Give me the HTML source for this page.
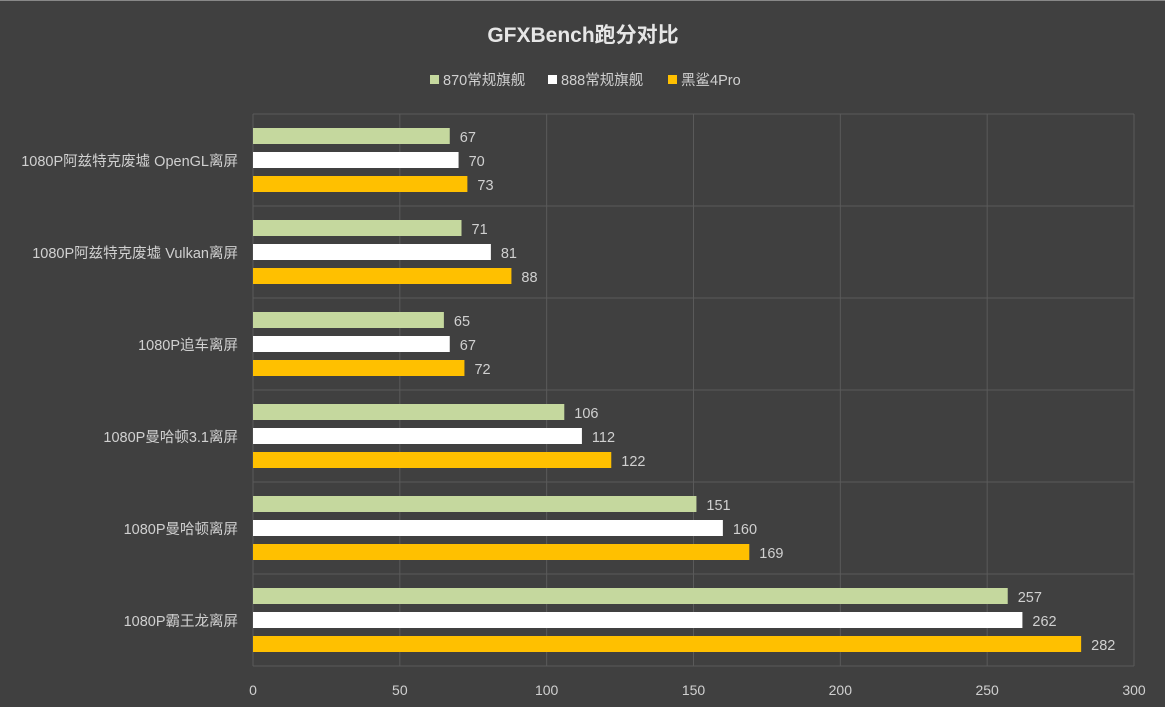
<!DOCTYPE html>
<html><head><meta charset="utf-8"><style>
html,body{margin:0;padding:0;background:#404040;}
#wrap{position:relative;width:1165px;height:707px;overflow:hidden;background:#404040;border-top:1px solid #888;box-sizing:border-box;}
svg text{font-family:"Liberation Sans","Noto Sans CJK SC",sans-serif;}
</style></head><body>
<div id="wrap">
<svg id="chart" width="1165" height="707" xmlns="http://www.w3.org/2000/svg">
<text x="583" y="41" text-anchor="middle" font-size="21" font-weight="bold" fill="#e6e6e6">GFXBench跑分对比</text>
</svg>
</div>
<script>
const categories=["1080P阿兹特克废墟 OpenGL离屏","1080P阿兹特克废墟 Vulkan离屏","1080P追车离屏","1080P曼哈顿3.1离屏","1080P曼哈顿离屏","1080P霸王龙离屏"];
const seriesNames=["870常规旗舰","888常规旗舰","黑鲨4Pro"];
const s870=[67,71,65,106,151,257];
const s888=[70,81,67,112,160,262];
const sBS=[73,88,72,122,169,282];
const ticks=[0,50,100,150,200,250,300];
const colors=["#c5d89e","#ffffff","#ffc000"];
const series=[s870,s888,sBS];
const ns="http://www.w3.org/2000/svg";
const svg=document.getElementById('chart');
const X0=253,X1=1134,Y0=113,Y1=665,MAX=300;
const xs=v=>X0+(X1-X0)*v/MAX;
const band=(Y1-Y0)/categories.length;
function mk(t,a){const e=document.createElementNS(ns,t);for(const k in a)e.setAttribute(k,a[k]);svg.appendChild(e);return e;}
// grid
ticks.forEach(t=>{
 const l=mk('line',{x1:xs(t),x2:xs(t),y1:Y0,y2:Y1,stroke:'#5a5a5a','stroke-width':1});
 
 
 const tx=mk('text',{x:xs(t),y:694,'text-anchor':'middle','font-size':14,fill:'#d0d0d0'});
 tx.textContent=t;
 
 
});
for(let i=0;i<=categories.length;i++){
 const y=Y0+band*i;
 const l=mk('line',{x1:X0,x2:X1,y1:y,y2:y,stroke:'#5a5a5a','stroke-width':1});
 
 
}
categories.forEach((c,i)=>{
 const top=Y0+band*i;
 const tx=mk('text',{x:238,y:top+band/2+6,'text-anchor':'end','font-size':14.5,fill:'#d0d0d0'});
 tx.textContent=c;
 
 
 series.forEach((s,j)=>{
  const y=top+14+24*j;
  const r=mk('rect',{x:X0,y:y,width:xs(s[i])-X0,height:16,fill:colors[j]});
  
  
  const v=mk('text',{x:xs(s[i])+10,y:y+14,'font-size':14.5,fill:'#d0d0d0'});
  v.textContent=s[i];
  
  
 });
});
// legend
const lx=[430,548,668];
seriesNames.forEach((n,j)=>{
 const r=mk('rect',{x:lx[j],y:74,width:9,height:9,fill:colors[j]});
 
 
 const t=mk('text',{x:lx[j]+13,y:84,'font-size':14.5,fill:'#d0d0d0'});
 t.textContent=n;
 
 
});
</script>
</body></html>
